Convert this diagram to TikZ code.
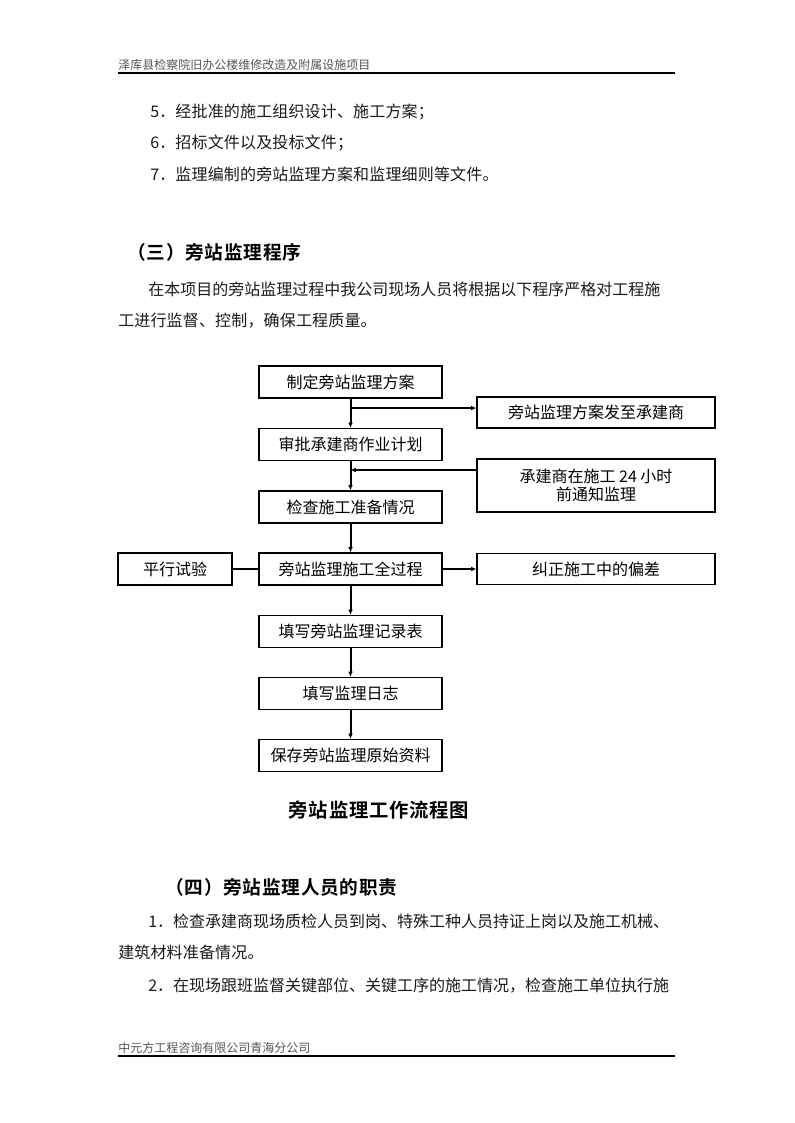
\documentclass[tikz,border=0pt]{standalone}
\usepackage{fontspec}
\setmainfont{Noto Sans CJK SC}[BoldFont={Noto Sans CJK SC Bold}]
\usetikzlibrary{arrows.meta}
\definecolor{txt}{HTML}{1A1A1A}
\definecolor{hdr}{HTML}{555555}
\tikzset{
  mbox/.style={draw, line width=0.8pt, minimum width=183*0.75pt, minimum height=32*0.75pt, inner sep=0pt, font=\fontsize{12pt}{14pt}\selectfont, text=black},
  sbox/.style={draw, line width=0.8pt, minimum width=238*0.75pt, minimum height=31*0.75pt, inner sep=0pt, font=\fontsize{12pt}{14pt}\selectfont, text=black, align=center},
  flow/.style={line width=1.5pt, -{Latex[length=4pt,width=3.5pt]}},
  thinflow/.style={line width=0.8pt, -{Latex[length=4pt,width=3.5pt]}},
  body/.style={anchor=west, inner sep=0pt, text=txt, font=\fontsize{12pt}{14pt}\selectfont\addfontfeature{LetterSpace=1}},
  head/.style={anchor=west, inner sep=0pt, text=black, font=\fontsize{14pt}{16pt}\selectfont\bfseries\addfontfeature{LetterSpace=4}},
  small/.style={anchor=west, inner sep=0pt, text=hdr, font=\fontsize{9pt}{11pt}\selectfont},
}
\begin{document}
\begin{tikzpicture}[x=0.75pt,y=-0.75pt]
\useasboundingbox (0,0) rectangle (794,1123);
% header & footer
\node[small] (hd) at (118,65) {泽库县检察院旧办公楼维修改造及附属设施项目};
\draw[line width=0.8pt] (118,73) -- (675,73);
\node[small] (ft) at (118,1048) {中元方工程咨询有限公司青海分公司};
\draw[line width=0.8pt] (118,1056) -- (675,1056);
% text
\node[body] (l5) at (150,112) {5．经批准的施工组织设计、施工方案；};
\node[body] (l6) at (150,143) {6．招标文件以及投标文件；};
\node[body] (l7) at (150,174) {7．监理编制的旁站监理方案和监理细则等文件。};
\node[head] (h3) at (127,252) {（三）旁站监理程序};
\node[body, font=\fontsize{12pt}{14pt}\selectfont] (p1) at (148,289) {在本项目的旁站监理过程中我公司现场人员将根据以下程序严格对工程施};
\node[body] (p2) at (118,321) {工进行监督、控制，确保工程质量。};
% flowchart
\node[mbox] (b1) at (350.5,382) {制定旁站监理方案};
\node[mbox] (b2) at (350.5,444.5) {审批承建商作业计划};
\node[mbox] (b3) at (350.5,507) {检查施工准备情况};
\node[mbox] (b4) at (350.5,569) {旁站监理施工全过程};
\node[mbox] (b5) at (350.5,631.5) {填写旁站监理记录表};
\node[mbox] (b6) at (350.5,693.5) {填写监理日志};
\node[mbox] (b7) at (350.5,755.5) {保存旁站监理原始资料};
\node[sbox] (s1) at (596,412.5) {旁站监理方案发至承建商};
\node[sbox, minimum height=53*0.75pt] (s2) at (596,485.5) {承建商在施工 24 小时\\[0pt]前通知监理};
\node[sbox] (s3) at (596,569) {纠正施工中的偏差};
\node[mbox, minimum width=114*0.75pt] (s0) at (175,569) {平行试验};
\draw[flow] (b1) -- (b2);
\draw[flow] (b2) -- (b3);
\draw[flow] (b3) -- (b4);
\draw[flow] (b4) -- (b5);
\draw[flow] (b5) -- (b6);
\draw[flow] (b6) -- (b7);
\coordinate (j1) at (350.5,408);
\draw[flow] (j1) -- (j1 -| s1.west);
\coordinate (j2) at (350.5,470);
\draw[thinflow] (j2 -| s2.west) -- (j2);
\draw[flow] (b4) -- (s3);
\draw[line width=0.8pt] (s0) -- (b4);
% caption and following text
\node[head, anchor=center, font=\fontsize{14.5pt}{16pt}\selectfont\bfseries\addfontfeature{LetterSpace=4}] (cap) at (379,810) {旁站监理工作流程图};
\node[head] (h4) at (165,887) {（四）旁站监理人员的职责};
\node[body, font=\fontsize{12pt}{14pt}\selectfont] (r1) at (148,921) {1．检查承建商现场质检人员到岗、特殊工种人员持证上岗以及施工机械、};
\node[body] (r1b) at (118,952) {建筑材料准备情况。};
\node[body, font=\fontsize{12pt}{14pt}\selectfont] (r2) at (148,986) {2．在现场跟班监督关键部位、关键工序的施工情况，检查施工单位执行施};
\end{tikzpicture}
\end{document}
